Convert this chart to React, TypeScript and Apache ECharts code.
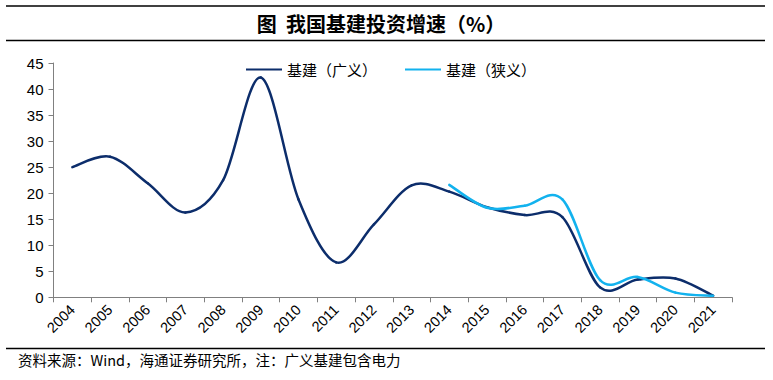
import React, { useEffect, useRef } from "react";
import * as echarts from "echarts";

const years = ["2004", "2005", "2006", "2007", "2008", "2009", "2010", "2011", "2012", "2013", "2014", "2015", "2016", "2017", "2018", "2019", "2020", "2021"];
const broadInfra: (number | null)[] = [25.0, 27.0, 21.9, 16.3, 22.5, 42.2, 18.8, 6.7, 14.0, 21.5, 20.3, 17.3, 15.8, 15.4, 1.9, 3.4, 3.6, 0.3];
const narrowInfra: (number | null)[] = [null, null, null, null, null, null, null, null, null, null, 21.6, 17.2, 17.6, 18.8, 3.3, 3.9, 0.9, 0.3];
const seriesNames = ["基建（广义）", "基建（狭义）"];
const seriesColors = ["#0C2D6B", "#12B2EE"];
const titleText = "图  我国基建投资增速（%）";
const sourceText = "资料来源：Wind，海通证券研究所，注：广义基建包含电力";

function toData(values: (number | null)[]) {
  const out: [number, number][] = [];
  values.forEach((v, i) => {
    if (v !== null) out.push([i, v]);
  });
  return out;
}

function smoothRenderer(values: (number | null)[], color: string) {
  const valid = (k: number) => k >= 0 && k < values.length && values[k] !== null;
  return (params: any, api: any) => {
    const i = api.value(0) as number;
    if (!valid(i + 1)) return null;
    const i0 = valid(i - 1) ? i - 1 : i;
    const i3 = valid(i + 2) ? i + 2 : i + 1;
    const c = (k: number) => api.coord([k, values[k]]);
    const A = c(i0), B = c(i), C = c(i + 1), D = c(i3);
    const t = 1 / 6;
    return {
      type: "bezierCurve",
      shape: {
        x1: B[0], y1: B[1],
        x2: C[0], y2: C[1],
        cpx1: B[0] + (C[0] - A[0]) * t,
        cpy1: B[1] + (C[1] - A[1]) * t,
        cpx2: C[0] - (D[0] - B[0]) * t,
        cpy2: C[1] - (D[1] - B[1]) * t,
      },
      style: { stroke: color, lineWidth: 2.5, fill: "none", lineCap: "round" },
    };
  };
}

export default function App() {
  const ref = useRef<HTMLDivElement>(null);
  useEffect(() => {
    if (!ref.current) return;
    const chart = echarts.init(ref.current, null, { renderer: "svg" });
    const cjk = "'Noto Sans CJK SC', 'Liberation Sans', sans-serif";
    const num = "'Liberation Sans', Arial, sans-serif";
    chart.setOption({
      animation: false,
      backgroundColor: "#ffffff",
      grid: { left: 53.5, right: 41, top: 63, bottom: 82.7, containLabel: false },
      legend: {
        left: 241,
        top: 57,
        itemWidth: 36,
        itemHeight: 2,
        itemGap: 28,
        icon: "rect",
        textStyle: { fontFamily: cjk, fontSize: 15, color: "#000" },
        data: seriesNames,
      },
      xAxis: {
        type: "category",
        data: years,
        boundaryGap: true,
        axisLine: { lineStyle: { color: "#808080", width: 1 } },
        axisTick: { show: true, length: 5, lineStyle: { color: "#808080" } },
        axisLabel: { rotate: 45, fontFamily: num, fontSize: 14.5, color: "#000", margin: 10, interval: 0 },
        splitLine: { show: false },
      },
      yAxis: {
        type: "value",
        min: 0,
        max: 45,
        interval: 5,
        axisLine: { show: true, lineStyle: { color: "#808080", width: 1 } },
        axisTick: { show: true, length: 5, lineStyle: { color: "#808080" } },
        axisLabel: { fontFamily: num, fontSize: 15, color: "#000", margin: 10 },
        splitLine: { show: false },
      },
      series: [
        {
          name: seriesNames[0],
          type: "custom",
          coordinateSystem: "cartesian2d",
          data: toData(broadInfra),
          encode: { x: 0, y: 1 },
          renderItem: smoothRenderer(broadInfra, seriesColors[0]),
          itemStyle: { color: seriesColors[0] },
        },
        {
          name: seriesNames[1],
          type: "custom",
          coordinateSystem: "cartesian2d",
          data: toData(narrowInfra),
          encode: { x: 0, y: 1 },
          renderItem: smoothRenderer(narrowInfra, seriesColors[1]),
          itemStyle: { color: seriesColors[1] },
        },
      ],
      graphic: [
        { type: "line", shape: { x1: 6, y1: 6, x2: 765, y2: 6 }, style: { stroke: "#000", lineWidth: 1.5 } },
        { type: "line", shape: { x1: 6, y1: 40.5, x2: 765, y2: 40.5 }, style: { stroke: "#000", lineWidth: 1.5 } },
        { type: "line", shape: { x1: 6, y1: 348.5, x2: 765, y2: 348.5 }, style: { stroke: "#000", lineWidth: 1.5 } },
        {
          type: "text",
          x: 381,
          y: 23,
          style: { text: titleText, fontFamily: cjk, fontSize: 20, fontWeight: "bold", fill: "#000", align: "center", verticalAlign: "middle" },
        },
        {
          type: "text",
          x: 18,
          y: 359,
          style: { text: sourceText, fontFamily: cjk, fontSize: 14.5, fill: "#000", align: "left", verticalAlign: "middle" },
        },
      ],
    });
    return () => chart.dispose();
  }, []);
  return <div ref={ref} style={{ position: "fixed", left: 0, top: 0, width: 773, height: 380 }} />;
}
